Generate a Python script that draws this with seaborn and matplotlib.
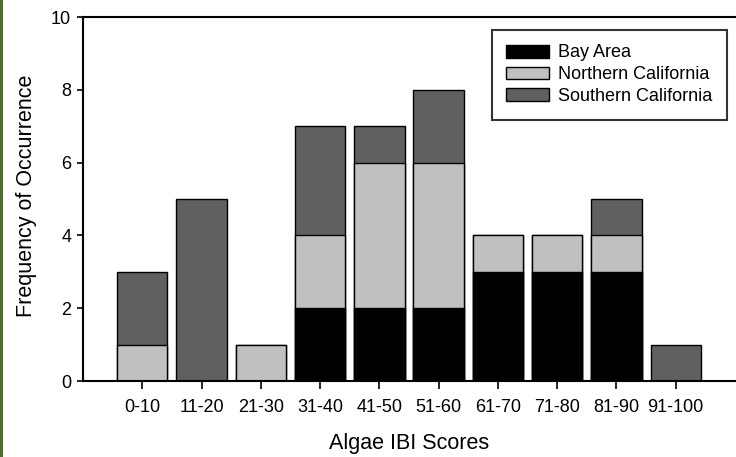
import matplotlib
matplotlib.use("Agg")
import matplotlib.pyplot as plt
from matplotlib.patches import Patch, Rectangle
import numpy as np
import pandas as pd
import seaborn as sns

categories = ["0-10", "11-20", "21-30", "31-40", "41-50", "51-60", "61-70", "71-80", "81-90", "91-100"]
bay_area = [0, 0, 0, 2, 2, 2, 3, 3, 3, 0]
northern = [1, 0, 1, 2, 4, 4, 1, 1, 1, 0]
southern = [2, 5, 0, 3, 1, 2, 0, 0, 1, 1]
series_names = ["Bay Area", "Northern California", "Southern California"]
series_colors = ["#000000", "#c0c0c0", "#606060"]
y_ticks = [0, 2, 4, 6, 8, 10]

sns.set_theme(style="ticks")
plt.rcParams["font.family"] = ["Liberation Sans", "DejaVu Sans"]
plt.rcParams["text.color"] = "black"
plt.rcParams["axes.labelcolor"] = "black"

b = np.array(bay_area)
n = np.array(northern)
s = np.array(southern)
cum_bn = b + n
cum_all = b + n + s

fig = plt.figure(figsize=(7.36, 4.57), dpi=100)
ax = fig.add_axes([83 / 736, 1 - 381 / 457, 652 / 736, (381 - 17) / 457])

for vals, col in [(cum_all, series_colors[2]), (cum_bn, series_colors[1]), (b, series_colors[0])]:
    df = pd.DataFrame({"cat": categories, "val": vals})
    sns.barplot(data=df, x="cat", y="val", order=categories, color=col, saturation=1,
                edgecolor="black", linewidth=1.0, width=0.85, ax=ax)

ax.set_xlim(-1.0, 10.0)
ax.set_ylim(0, 10)
ax.set_yticks(y_ticks)
ax.set_yticklabels([str(t) for t in y_ticks])
ax.set_xlabel("Algae IBI Scores", fontsize=15.5, labelpad=12, color="black")
ax.set_ylabel("Frequency of Occurrence", fontsize=15.5, labelpad=10, color="black")
ax.yaxis.label.set_y(0.51)
ax.tick_params(axis="both", direction="out", width=1.2, colors="black", labelcolor="black", labelsize=13)
ax.tick_params(axis="x", length=6, pad=7)
ax.tick_params(axis="y", length=4.5, pad=4)
for side in ["left", "top", "bottom"]:
    ax.spines[side].set_visible(True)
    ax.spines[side].set_linewidth(1.5)
    ax.spines[side].set_color("black")
ax.spines["right"].set_visible(False)

handles = [Patch(facecolor=c, edgecolor="black", linewidth=1) for c in series_colors]
leg = ax.legend(handles, series_names, loc="upper right", bbox_to_anchor=(0.9877, 0.9643),
                fontsize=13, frameon=True, fancybox=False, edgecolor="black",
                handlelength=2.38, handleheight=0.72, handletextpad=0.5, labelspacing=0.27,
                borderpad=0.8, borderaxespad=0)
leg.get_frame().set_linewidth(1.5)
for t in leg.get_texts():
    t.set_color("black")

fig.patches.append(Rectangle((0, 0), 2.5 / 736, 1, transform=fig.transFigure,
                             facecolor="#4f6f30", edgecolor="none", zorder=10))

fig.savefig("out.png", dpi=100, facecolor="white")
